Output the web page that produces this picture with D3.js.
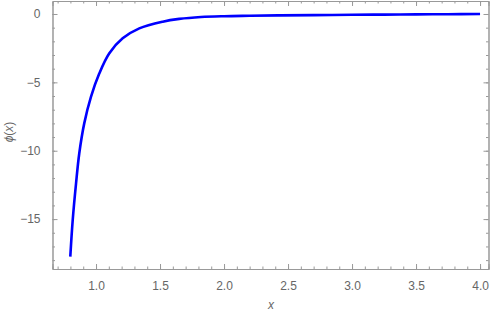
<!DOCTYPE html>
<html>
<head>
<meta charset="utf-8">
<script src="https://cdn.jsdelivr.net/npm/d3@7"></script>
<style>
body { margin: 0; background: #fff; }
svg { font-family: "Liberation Sans", Arial, sans-serif; }
.frame path, .frame line { stroke: #999; }
.frame text { fill: #666; font-size: 12px; }
</style>
</head>
<body>
<svg id="chart" width="491" height="319"></svg>
<script>

// curve points
var xs   = [0.799, 0.818, 0.844, 0.869, 0.908, 0.961, 1.026, 1.104, 1.208, 1.338, 1.521, 1.65, 1.82, 2.0, 2.2, 2.44, 2.7, 3.0, 3.25, 3.5, 3.75, 4.0];
var phis = [-17.75, -15.05, -12.38, -10.2, -8.0, -6.05, -4.34, -2.87, -1.78, -1.05, -0.56, -0.36, -0.22, -0.16, -0.13, -0.1, -0.08, -0.06, -0.045, -0.03, -0.015, 0.0];

var xticks = [1.0, 1.5, 2.0, 2.5, 3.0, 3.5, 4.0];
var yticks = [0, -5, -10, -15];
var xminor = d3.range(7, 41).map(d => d / 10);
var yminor = d3.range(-18, 1);

var svg = d3.select("#chart");

var x = d3.scaleLinear([0.66, 4.066], [52.5, 488.5]);
var y = d3.scaleLinear([-18.65, 0.95], [269, 1]);

var fmtx = d3.format(".1f");
var fmty = d => d < 0 ? "\u2212" + Math.abs(d) : "" + d;

// bottom
svg.append("g").attr("class", "frame").attr("transform", "translate(0,269)")
	.call(d3.axisBottom(x).tickValues(xminor).tickSize(-2.5).tickFormat(""));
svg.append("g").attr("class", "frame").attr("transform", "translate(0,269)")
	.call(d3.axisBottom(x).tickValues(xticks).tickSize(-5).tickPadding(12).tickFormat(fmtx));
// top
svg.append("g").attr("class", "frame").attr("transform", "translate(0,1)")
	.call(d3.axisTop(x).tickValues(xminor).tickSize(-2.5).tickFormat(""));
svg.append("g").attr("class", "frame").attr("transform", "translate(0,1)")
	.call(d3.axisTop(x).tickValues(xticks).tickSize(-5).tickFormat(""));
// left
svg.append("g").attr("class", "frame").attr("transform", "translate(52.5,0)")
	.call(d3.axisLeft(y).tickValues(yminor).tickSize(-2.5).tickFormat(""));
svg.append("g").attr("class", "frame").attr("transform", "translate(52.5,0)")
	.call(d3.axisLeft(y).tickValues(yticks).tickSize(-5).tickPadding(12).tickFormat(fmty));
// right
svg.append("g").attr("class", "frame").attr("transform", "translate(488.5,0)")
	.call(d3.axisRight(y).tickValues(yminor).tickSize(-2.5).tickFormat(""));
svg.append("g").attr("class", "frame").attr("transform", "translate(488.5,0)")
	.call(d3.axisRight(y).tickValues(yticks).tickSize(-5).tickFormat(""));

var pts = xs.map((d, i) => [d, phis[i]]);

svg.append("path")
	.attr("fill", "none")
	.attr("stroke", "#0000ff")
	.attr("stroke-width", 2.6)
	.attr("d", d3.line(d => x(d[0]), d => y(d[1])).curve(d3.curveCatmullRom.alpha(0.5))(pts));

svg.append("text")
	.attr("x", 271).attr("y", 309)
	.attr("text-anchor", "middle")
	.attr("font-style", "italic")
	.attr("font-size", 12)
	.attr("fill", "#666")
	.text("x");

svg.append("text")
	.attr("transform", "translate(13,132) rotate(-90)")
	.attr("text-anchor", "middle")
	.attr("font-size", 12)
	.attr("fill", "#666")
	.html('<tspan font-style="italic">\u03d5</tspan>(<tspan font-style="italic">x</tspan>)');

</script>
</body>
</html>
